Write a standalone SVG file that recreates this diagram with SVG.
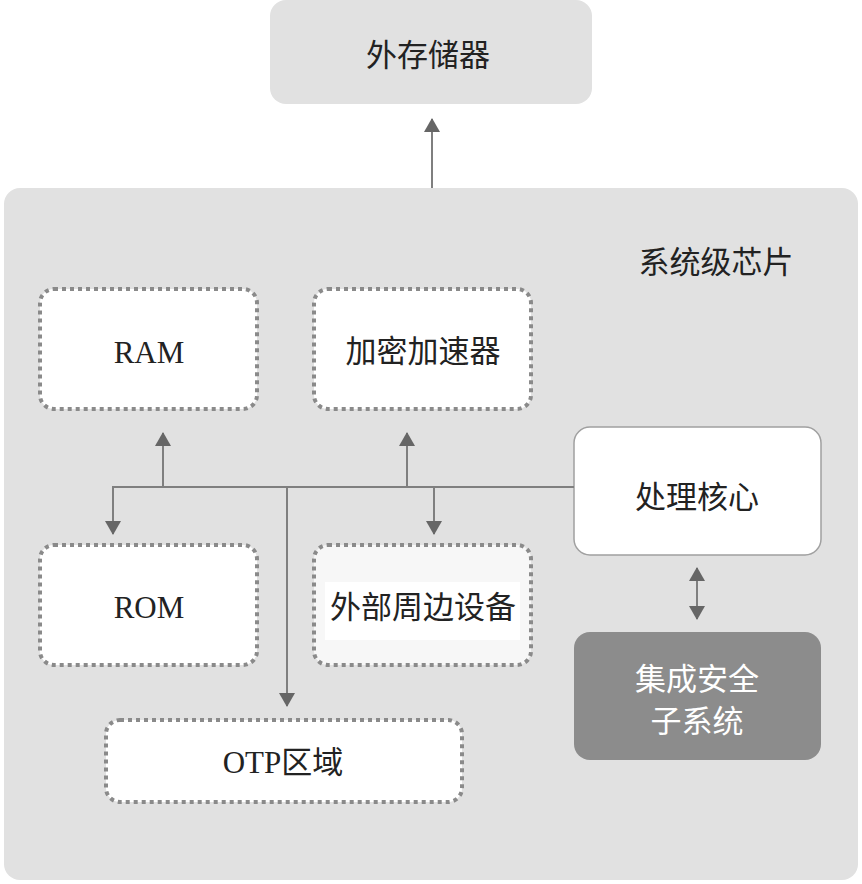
<svg xmlns="http://www.w3.org/2000/svg" width="862" height="884" viewBox="0 0 862 884">
<style>
.bg{fill:#e1e1e1}
.dot{fill:#fff;stroke:#8a8a8a;stroke-width:4;stroke-dasharray:4 4}
.t{font-family:"Liberation Serif","Noto Sans CJK SC",serif;font-size:31px;fill:#222;text-anchor:middle}
.ts{font-family:"Noto Sans CJK SC","Liberation Sans",sans-serif;font-size:31px;fill:#fff;text-anchor:middle}
.ln{stroke:#7f7f7f;stroke-width:2;fill:none}
</style>
<defs>
<marker id="ah" viewBox="0 0 14 16" refX="13" refY="8" markerWidth="14" markerHeight="16" markerUnits="userSpaceOnUse" orient="auto-start-reverse">
<path d="M0,0 L14,8 L0,16 Z" fill="#666"/>
</marker>
</defs>
<g id="ext-storage">
<rect class="bg" x="270" y="0" width="322" height="104" rx="16"/>
<text class="t" x="428" y="66">外存储器</text>
</g>
<g id="soc">
<rect class="bg" x="4" y="188" width="854" height="692" rx="16"/>
<text class="t" x="716" y="273">系统级芯片</text>
</g>
<g id="ram">
<rect class="dot" x="40" y="289" width="217" height="120" rx="14"/>
<text class="t" x="149" y="363">RAM</text>
</g>
<g id="crypto">
<rect class="dot" x="314" y="289" width="217" height="120" rx="14"/>
<text class="t" x="423" y="362">加密加速器</text>
</g>
<g id="core">
<rect x="574" y="427" width="247" height="128" rx="16" fill="#fff" stroke="#a0a0a0" stroke-width="1.5"/>
<text class="t" x="697" y="508">处理核心</text>
</g>
<g id="rom">
<rect class="dot" x="40" y="545" width="217" height="120" rx="14"/>
<text class="t" x="149" y="618">ROM</text>
</g>
<g id="periph">
<rect class="dot" x="314" y="545" width="217" height="120" rx="14" style="fill:#f7f7f7"/>
<rect x="325" y="582" width="195" height="58" fill="#fff"/>
<text class="t" x="423" y="618">外部周边设备</text>
</g>
<g id="secure">
<rect x="574" y="632" width="247" height="128" rx="16" fill="#8c8c8c"/>
<text class="ts" x="697" y="690">集成安全</text>
<text class="ts" x="697" y="732">子系统</text>
</g>
<g id="otp">
<rect class="dot" x="106" y="720" width="356" height="82" rx="14"/>
<text class="t" x="283" y="773">OTP区域</text>
</g>
<g id="connectors">
<line class="ln" x1="432" y1="188" x2="432" y2="119" marker-end="url(#ah)"/>
<line class="ln" x1="112" y1="487" x2="574" y2="487"/>
<line class="ln" x1="163" y1="487" x2="163" y2="433" marker-end="url(#ah)"/>
<line class="ln" x1="407" y1="487" x2="407" y2="433" marker-end="url(#ah)"/>
<line class="ln" x1="113" y1="486" x2="113" y2="534" marker-end="url(#ah)"/>
<line class="ln" x1="434" y1="487" x2="434" y2="534" marker-end="url(#ah)"/>
<line class="ln" x1="287" y1="487" x2="287" y2="706" marker-end="url(#ah)"/>
<line class="ln" x1="697" y1="568" x2="697" y2="619" marker-start="url(#ah)" marker-end="url(#ah)"/>
</g>
</svg>
